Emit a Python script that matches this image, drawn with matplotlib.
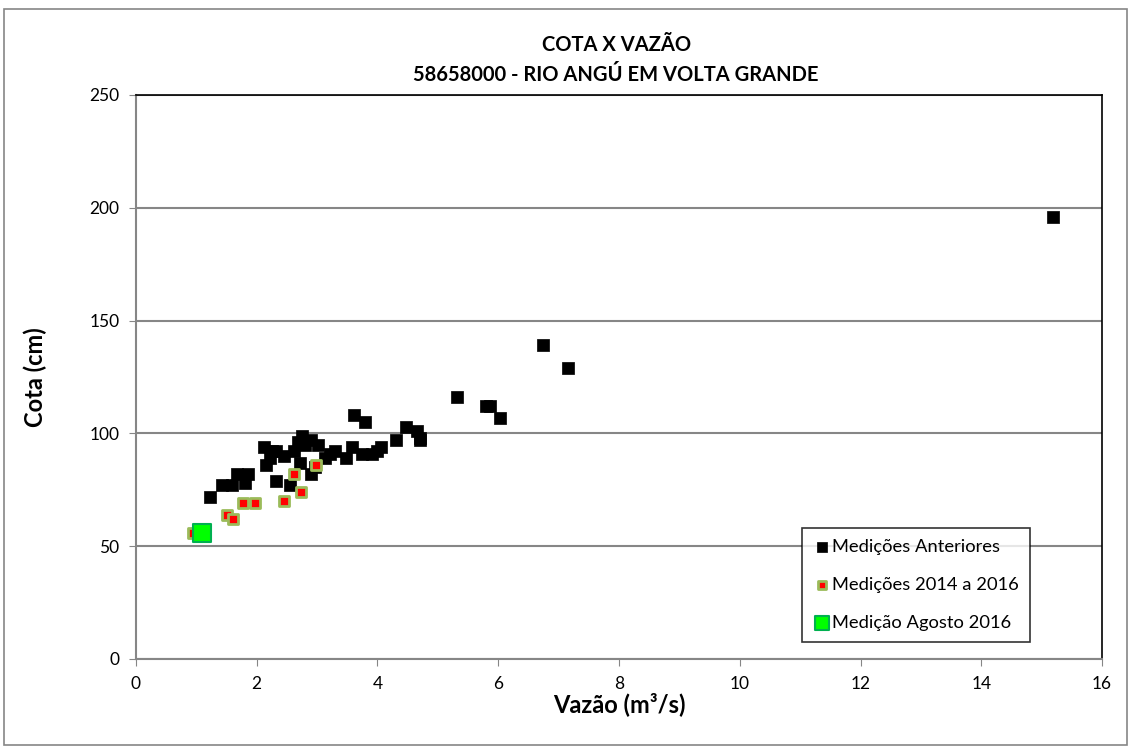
import matplotlib
matplotlib.use('Agg')
import matplotlib.pyplot as plt
from matplotlib.patches import Rectangle

# Medições Anteriores
vaz_ant = [1.23, 1.42, 1.59, 1.67, 1.80, 1.85, 2.12, 2.15, 2.22, 2.25, 2.32, 2.32,
           2.45, 2.55, 2.62, 2.68, 2.75, 2.72, 2.80, 2.90, 2.90, 2.96, 3.01, 3.13,
           3.21, 3.29, 3.48, 3.58, 3.61, 3.79, 3.74, 3.91, 3.99, 4.06, 4.30, 4.47,
           4.65, 4.70, 4.70, 5.31, 5.79, 5.86, 6.03, 6.74, 7.15, 15.18]
cota_ant = [72, 77, 77, 82, 78, 82, 94, 86, 89, 92, 79, 92,
            90, 77, 92, 96, 99, 87, 95, 97, 82, 85, 95, 89,
            91, 92, 89, 94, 108, 105, 91, 91, 92, 94, 97, 103,
            101, 98, 97, 116, 112, 112, 107, 139, 129, 196]

# Medições 2014 a 2016
vaz_rec = [0.94, 1.51, 1.60, 1.78, 1.97, 2.45, 2.62, 2.73, 2.98]
cota_rec = [56, 64, 62, 69, 69, 70, 82, 74, 86]

# Medição Agosto 2016
vaz_ago = [1.09]
cota_ago = [56]

plt.rcParams['font.family'] = ['Lato', 'DejaVu Sans']

fig = plt.figure(figsize=(11.31, 7.49), dpi=100)
ax = fig.add_axes([0.1202, 0.1202, 0.8542, 0.7530])

ax.scatter(vaz_ant, cota_ant, marker='s', s=80, c='black', edgecolors='black',
           linewidths=0.5, label='Medições Anteriores', zorder=3)
ax.scatter(vaz_rec, cota_rec, marker='s', s=55, c='#ff0000', edgecolors='#9bbb59',
           linewidths=2, label='Medições 2014 a 2016', zorder=4)
ax.scatter(vaz_ago, cota_ago, marker='s', s=170, c='#00ff00', edgecolors='#00b050',
           linewidths=1.5, label='Medição Agosto 2016', zorder=5)

ax.set_xlim(0, 16)
ax.set_ylim(0, 250)
ax.set_xticks(range(0, 17, 2))
ax.set_yticks(range(0, 251, 50))
ax.yaxis.grid(True, color='#868686', linewidth=1.5)
ax.set_axisbelow(True)

for s in ['left', 'bottom']:
    ax.spines[s].set_color('#868686')
    ax.spines[s].set_linewidth(1.5)
for s in ['top', 'right']:
    ax.spines[s].set_color('black')
    ax.spines[s].set_linewidth(1.2)
ax.tick_params(axis='both', direction='out', length=5, color='#868686',
               labelsize=12.5, pad=7)

ax.set_xlabel('Vazão (m³/s)', fontsize=17, fontweight='bold', labelpad=0)
ax.set_ylabel('Cota (cm)', fontsize=17, fontweight='bold', labelpad=30)

fig.text(0.5448, 0.940, 'COTA X VAZÃO', ha='center', va='center',
         fontsize=14.5, fontweight='bold')
fig.text(0.5448, 0.900, '58658000 - RIO ANGÚ EM VOLTA GRANDE', ha='center',
         va='center', fontsize=14.5, fontweight='bold')

leg = ax.legend(loc='lower right', bbox_to_anchor=(0.9345, 0.0145), fontsize=13.2,
                frameon=True, fancybox=False, edgecolor='black',
                labelspacing=1.2, handletextpad=0.05, borderpad=0.6,
                handlelength=1.0, markerscale=0.75)
leg.get_frame().set_linewidth(1.2)

fig.patches.append(Rectangle((0.0035, 0.005), 0.993, 0.983, transform=fig.transFigure,
                             fill=False, edgecolor='#868686', linewidth=1.2))

plt.savefig('out.png', dpi=100)
